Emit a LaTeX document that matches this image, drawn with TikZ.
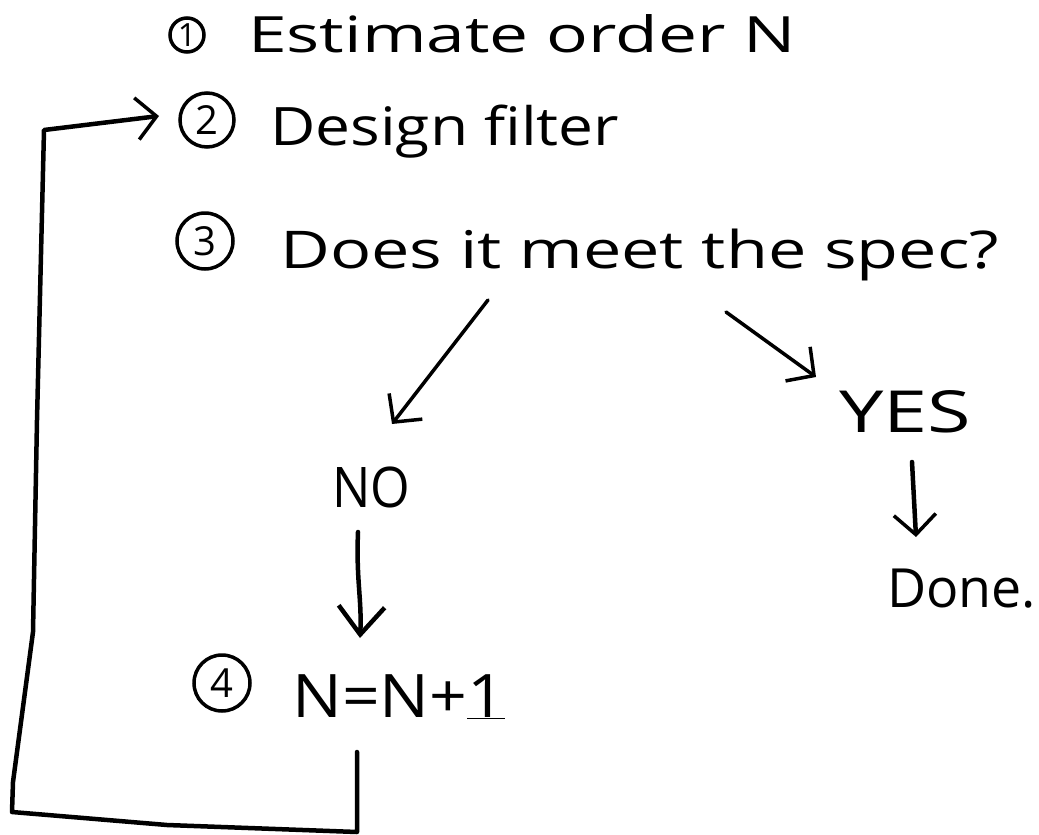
\documentclass[tikz,border=0pt]{standalone}
\usepackage{fontspec}
\setmainfont{Open Sans}
\usetikzlibrary{arrows.meta}
\newcommand{\wfit}[2]{\resizebox{#1}{\height}{#2}}
\begin{document}
\begin{tikzpicture}[x=1pt,y=-1pt,
  lbl/.style={anchor=base west,inner sep=0pt,font=\fontsize{50}{60}\selectfont},
  num/.style={circle,draw,line width=3.5pt,inner sep=0pt,font=\fontsize{40}{46}\selectfont},
  ln/.style={line width=4.5pt,line cap=round,line join=round},
  thin/.style={line width=3.5pt,line cap=round,line join=round},
  tip/.style={-{Straight Barb[length=20pt,width=42pt,line width=3.5pt]}},
  bigtip/.style={-{Straight Barb[length=28pt,width=46pt,line width=4.5pt]}}
]
\useasboundingbox[fill=white] (0,0) rectangle (1039,835);

% numbered circles
\node[num,minimum size=34pt,font=\fontsize{32}{36}\selectfont] (c1) at (187,35) {1};
\node[num,minimum size=54pt] (c2) at (207,120) {2};
\node[num,minimum size=56pt] (c3) at (205,241) {3};
\node[num,minimum size=56pt] (c4) at (222,683) {4};

% texts
\node[lbl] (t1) at (248,52) {\wfit{548pt}{Estimate order N}};
\node[lbl,font=\fontsize{53}{60}\selectfont] (t2) at (270,145) {\wfit{349pt}{Design filter}};
\node[lbl,font=\fontsize{52}{60}\selectfont] (t3) at (280,268) {\wfit{719pt}{Does it meet the spec?}};
\node[lbl,font=\fontsize{56}{64}\selectfont] (no) at (332,507) {\wfit{78pt}{NO}};
\node[lbl,font=\fontsize{58}{66}\selectfont] (yes) at (839,432) {\wfit{132pt}{YES}};
\node[lbl,font=\fontsize{54}{62}\selectfont] (done) at (887,607) {\wfit{149pt}{Done.}};
\node[lbl,font=\fontsize{60}{68}\selectfont] (t4) at (292,717) {\wfit{213pt}{N=N+\underline{1}}};

% connector end points
\coordinate (noS) at (488,300);
\coordinate (noE) at (392,424);
\coordinate (yesS) at (726,312);
\coordinate (yesE) at (816,377);
\coordinate (doneS) at (912,462);
\coordinate (doneE) at (916,537);
\coordinate (n4S) at (358,532);
\coordinate (n4E) at (360,638);
\coordinate (loopS) at (357,752);
\coordinate (loopE) at (159,116);

% arrows
\draw[thin,tip] (noS) -- (noE);
\draw[thin,tip] (yesS) -- (yesE);
\draw[ln,tip] (doneS) -- (doneE);
\draw[ln,bigtip] (n4S) .. controls (356,580) and (362,600) .. (n4E);

% feedback loop
\draw[ln,tip] (loopS) -- (357,832) -- (167,825) -- (12,812) -- (13,782)
  -- (33,632) -- (37,420) -- (44,130) -- (loopE);
\end{tikzpicture}
\end{document}
